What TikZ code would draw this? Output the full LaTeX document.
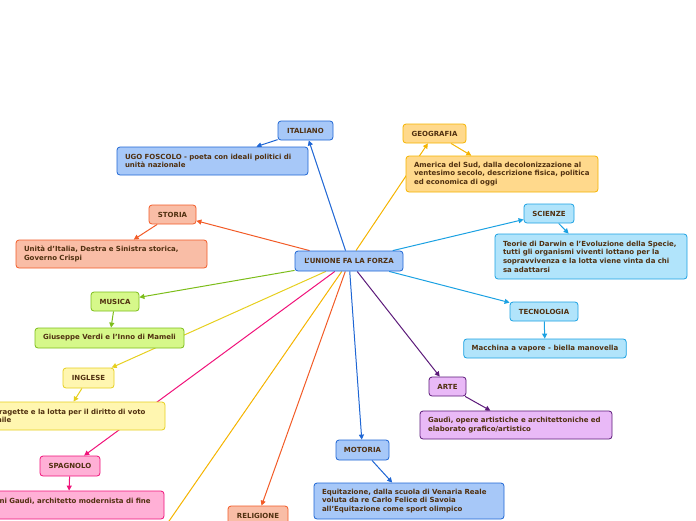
\documentclass[tikz,border=0pt]{standalone}
\usepackage{fontspec}
\setsansfont{DejaVu Sans}
\usetikzlibrary{arrows.meta,backgrounds}

\definecolor{testo}{RGB}{80,48,16}
\definecolor{bluF}{HTML}{A7C8F8}
\definecolor{bluL}{HTML}{1F66D4}
\definecolor{aranF}{HTML}{FFD98C}
\definecolor{aranL}{HTML}{F5B400}
\definecolor{rossF}{HTML}{F9BDA6}
\definecolor{rossL}{HTML}{F25B27}
\definecolor{azzF}{HTML}{B1E4FB}
\definecolor{azzL}{HTML}{1BA1E2}
\definecolor{verF}{HTML}{D6F88A}
\definecolor{verL}{HTML}{7CBD1A}
\definecolor{gialF}{HTML}{FFF6B0}
\definecolor{gialL}{HTML}{E6CF1F}
\definecolor{violF}{HTML}{E9B9F7}
\definecolor{violL}{HTML}{5C1A7A}
\definecolor{rosaF}{HTML}{FFB0D6}
\definecolor{rosaL}{HTML}{F0127A}

\begin{document}
\begin{tikzpicture}[x=1pt,y=-1pt,>={Triangle[length=5pt,width=5pt]},
  nodo/.style={draw,rounded corners=3pt,line width=0.8pt,text=testo,
    font=\sffamily\bfseries\fontsize{7}{8.6}\selectfont},
  tema/.style={nodo,inner sep=0pt,minimum height=19pt},
  dett/.style={nodo,align=left,inner xsep=8pt,inner ysep=3pt},
  blu/.style={fill=bluF,draw=bluL},
  arancio/.style={fill=aranF,draw=aranL},
  rosso/.style={fill=rossF,draw=rossL},
  azzurro/.style={fill=azzF,draw=azzL},
  verde/.style={fill=verF,draw=verL},
  giallo/.style={fill=gialF,draw=gialL},
  viola/.style={fill=violF,draw=violL},
  rosa/.style={fill=rosaF,draw=rosaL},
  link/.style={->,line width=1pt}]
  \useasboundingbox (0,0) rectangle (696,520);

  % nodo centrale
  \node[tema,blu,minimum width=108pt,minimum height=20pt] (centro) at (349,261) {L'UNIONE FA LA FORZA};

  % materie
  \node[tema,blu,minimum width=55pt] (italiano) at (305.5,130.5) {ITALIANO};
  \node[tema,arancio,minimum width=63pt] (geografia) at (434.5,133.5) {GEOGRAFIA};
  \node[tema,rosso,minimum width=47pt] (storia) at (172.5,214.5) {STORIA};
  \node[tema,azzurro,minimum width=50pt] (scienze) at (549,213.5) {SCIENZE};
  \node[tema,verde,minimum width=48pt] (musica) at (115,301.5) {MUSICA};
  \node[tema,azzurro,minimum width=68pt] (tecnologia) at (544,311.5) {TECNOLOGIA};
  \node[tema,giallo,minimum width=51pt,minimum height=20pt] (inglese) at (88.5,378) {INGLESE};
  \node[tema,viola,minimum width=37pt] (arte) at (447.5,386.5) {ARTE};
  \node[tema,rosa,minimum width=60pt,minimum height=20pt] (spagnolo) at (70,466) {SPAGNOLO};
  \node[tema,blu,minimum width=53pt,minimum height=20pt] (motoria) at (362.5,450) {MOTORIA};
  \node[tema,rosso,minimum width=60pt] (religione) at (258,515.5) {RELIGIONE};
  \coordinate (altro) at (131,576);

  % contenuti
  \node[dett,blu,text width=175pt,minimum height=28pt] (foscolo) at (212.5,161)
    {UGO FOSCOLO - poeta con ideali politici di\\unità nazionale};
  \node[dett,arancio,text width=176pt,minimum height=36pt] (america) at (502,174)
    {America del Sud, dalla decolonizzazione al\\ventesimo secolo, descrizione fisica, politica\\ed economica di oggi};
  \node[dett,rosso,text width=175pt,minimum height=28pt] (unita) at (111.5,254)
    {Unità d'Italia, Destra e Sinistra storica,\\Governo Crispi};
  \node[dett,azzurro,text width=176pt,minimum height=45pt] (darwin) at (591,256.5)
    {Teorie di Darwin e l'Evoluzione della Specie,\\tutti gli organismi viventi lottano per la\\sopravvivenza e la lotta viene vinta da chi\\sa adattarsi};
  \node[dett,verde,minimum width=149pt,minimum height=20pt] (verdi) at (109.5,338)
    {Giuseppe Verdi e l'Inno di Mameli};
  \node[dett,azzurro,minimum width=162pt,minimum height=19pt] (vapore) at (545,348.5)
    {Macchina a vapore - biella manovella};
  \node[dett,giallo,text width=185pt,minimum height=28pt] (suffragette) at (64.5,416)
    {Le Suffragette e la lotta per il diritto di voto\\femminile};
  \node[dett,viola,text width=176pt,minimum height=28pt] (gaudi) at (516,425)
    {Gaudì, opere artistiche e architettoniche ed\\elaborato grafico/artistico};
  \node[dett,rosa,text width=175pt,minimum height=28pt,text depth=9pt] (antoni) at (68.5,505)
    {Antoni Gaudì, architetto modernista di fine};
  \node[dett,blu,text width=174pt,minimum height=36pt] (equitazione) at (409,501)
    {Equitazione, dalla scuola di Venaria Reale\\voluta da re Carlo Felice di Savoia\\all'Equitazione come sport olimpico};

  \begin{scope}[on background layer]
    \draw[link,bluL] (centro) -- (italiano);
    \draw[link,aranL] (centro) -- (geografia);
    \draw[link,rossL] (centro) -- (storia);
    \draw[link,azzL] (centro) -- (scienze);
    \draw[link,verL] (centro) -- (musica);
    \draw[link,azzL] (centro) -- (tecnologia);
    \draw[link,gialL] (centro) -- (inglese);
    \draw[link,violL] (centro) -- (arte);
    \draw[link,rosaL] (centro) -- (spagnolo);
    \draw[link,bluL] (centro) -- (motoria);
    \draw[link,rossL] (centro) -- (religione);
    \draw[line width=1pt,aranL] (centro) -- (altro);

    \draw[link,bluL] (italiano) -- (foscolo);
    \draw[link,aranL] (geografia) -- (america);
    \draw[link,rossL] (storia) -- (unita);
    \draw[link,azzL] (scienze) -- (darwin);
    \draw[link,verL] (musica) -- (verdi);
    \draw[link,azzL] (tecnologia) -- (vapore);
    \draw[link,gialL] (inglese) -- (suffragette);
    \draw[link,violL] (arte) -- (gaudi);
    \draw[link,rosaL] (spagnolo) -- (antoni);
    \draw[link,bluL] (motoria) -- (equitazione);
  \end{scope}
\end{tikzpicture}
\end{document}
